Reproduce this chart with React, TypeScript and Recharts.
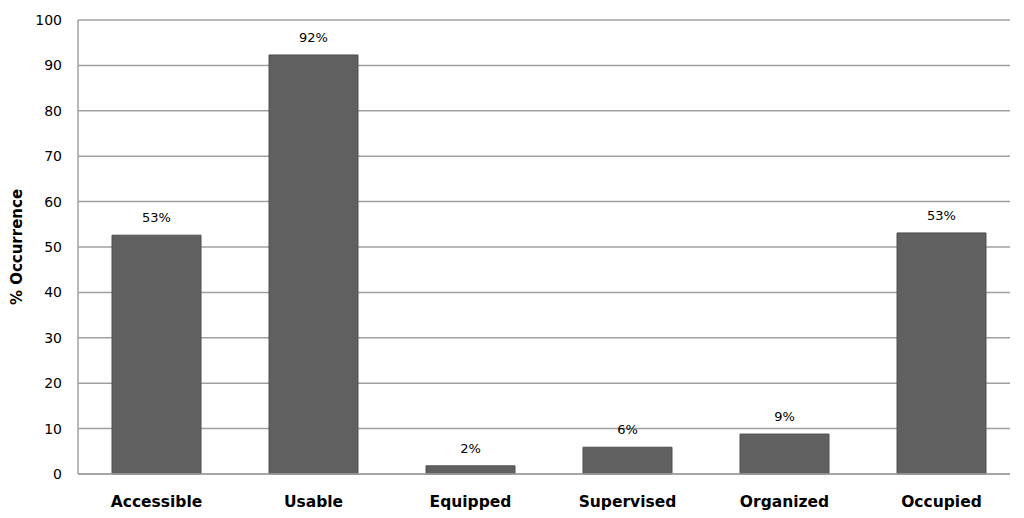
import { Bar, BarChart, CartesianGrid, LabelList, XAxis, YAxis } from 'recharts';

const categories = ['Accessible', 'Usable', 'Equipped', 'Supervised', 'Organized', 'Occupied'];
const occurrence = [52.6, 92.3, 1.8, 5.9, 8.8, 53.1];
const yTicks = [0, 10, 20, 30, 40, 50, 60, 70, 80, 90, 100];

const data = categories.map((name, i) => ({ name, value: occurrence[i] }));

const font = 'Verdana, "DejaVu Sans", sans-serif';

const App = () => {
  return (
    <div style={{ position: 'absolute', left: 0, top: 0, background: '#fff' }}>
      <style>{'body{margin:0}'}</style>
      <BarChart
        width={1024}
        height={518}
        data={data}
        margin={{ top: 20, right: 14, bottom: 14, left: 0 }}
      >
        <CartesianGrid vertical={false} stroke="#a0a0a0" strokeWidth={1.5} />
        <XAxis
          dataKey="name"
          height={30}
          padding={{ left: 0, right: -10 }}
          axisLine={{ stroke: '#a0a0a0', strokeWidth: 1.5 }}
          tickLine={false}
          tick={{ fill: '#000', fontSize: 15.5, fontWeight: 'bold', fontFamily: font }}
          tickMargin={16}
          interval={0}
        />
        <YAxis
          domain={[0, 100]}
          ticks={yTicks}
          width={78}
          axisLine={{ stroke: '#a0a0a0', strokeWidth: 1.5 }}
          tickLine={false}
          tick={{ fill: '#000', fontSize: 14, fontFamily: font }}
          tickMargin={10}
          label={{
            value: '% Occurrence',
            angle: -90,
            position: 'insideLeft',
            offset: 17,
            style: { textAnchor: 'middle', fill: '#000', fontSize: 15, fontWeight: 'bold', fontFamily: font },
          }}
        />
        <Bar dataKey="value" fill="#606060" stroke="#505050" barSize={89} isAnimationActive={false}>
          <LabelList
            dataKey="value"
            position="top"
            offset={13}
            formatter={(v: number) => `${Math.round(v)}%`}
            style={{ fill: '#000', fontSize: 13, fontFamily: font }}
          />
        </Bar>
      </BarChart>
    </div>
  );
};

export default App;
